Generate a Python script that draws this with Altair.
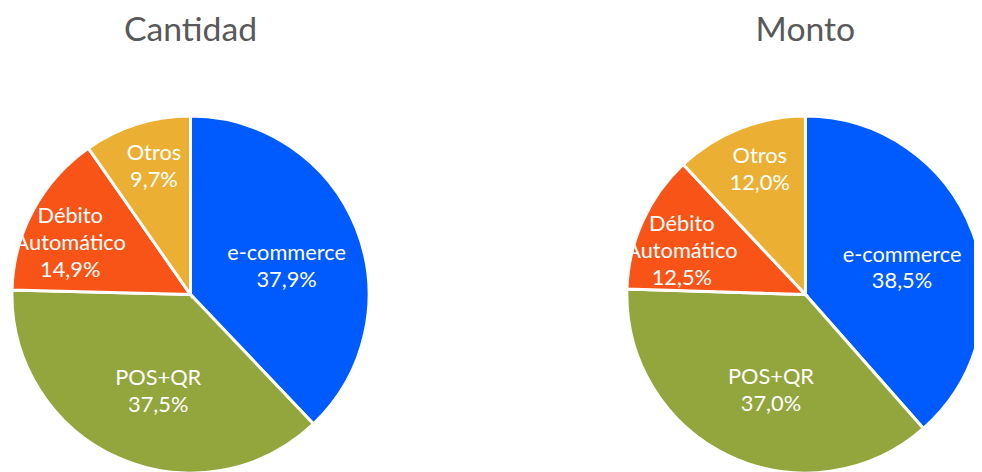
import altair as alt
import pandas as pd

# ---- data ----
categories = ["e-commerce", "POS+QR", "Débito Automático", "Otros"]
label_names = ["e-commerce", "POS+QR", "Débito\nAutomático", "Otros"]
cantidad = [37.9, 37.5, 14.9, 9.7]
monto = [38.5, 37.0, 12.5, 12.0]
panel_titles = ["Cantidad", "Monto"]

# ---- styles ----
colors = ["#005BFF", "#93A53D", "#F95417", "#EBB033"]
label_radius = [101, 103, 132, 134]       # px from pie centre
label_angle_shift = [5.4, -5.5, -5.0, 1.5]  # degrees away from slice middle
FONT = "Lato"
LABEL_SIZE = 22
LINE_H = 27


def fmt(v):
    return f"{v:.1f}".replace(".", ",") + "%"


def pie(values, title, cx, cy):
    labels = [f"{n}\n{fmt(v)}" for n, v in zip(label_names, values)]
    df = pd.DataFrame({
        "cat": categories,
        "order": list(range(len(categories))),
        "value": values,
        "label": labels,
        "nlines": [lab.count("\n") + 1 for lab in labels],
        "lr": label_radius,
        "dth": label_angle_shift,
    })
    base = alt.Chart(df)
    arc = base.mark_arc(outerRadius=180, stroke="white", strokeWidth=3).encode(
        theta=alt.Theta("value:Q", stack=True),
        color=alt.Color("cat:N", scale=alt.Scale(domain=categories, range=colors), legend=None),
        order=alt.Order("order:Q"),
        x=alt.value(cx),
        y=alt.value(cy),
    )
    stacked = base.transform_stack(
        stack="value", as_=["v0", "v1"], groupby=[], sort=[alt.SortField("order")]
    ).transform_joinaggregate(
        total="sum(value)"
    ).transform_calculate(
        mid="(datum.v0 + datum.v1) / 2 + datum.dth / 360 * datum.total"
    )
    texts = []
    for n in sorted(set(df["nlines"])):
        texts.append(
            stacked.transform_filter(f"datum.nlines == {n}").mark_text(
                font=FONT, fontSize=LABEL_SIZE, color="white", lineBreak="\n",
                lineHeight=LINE_H, align="center", baseline="middle",
                dy=-(n - 1) * LINE_H / 2,
            ).encode(
                theta=alt.Theta("mid:Q", stack=False),
                radius=alt.Radius("lr:Q", scale=None),
                text="label:N",
                x=alt.value(cx),
                y=alt.value(cy),
            )
        )
    ttl = alt.Chart(pd.DataFrame({"t": [title]})).mark_text(
        font=FONT, fontSize=34, color="#595959", baseline="alphabetic", align="center"
    ).encode(text="t:N", x=alt.value(cx), y=alt.value(31))
    return [arc] + texts + [ttl]


layers = pie(cantidad, panel_titles[0], 184, 287) + pie(monto, panel_titles[1], 804, 287)

chart = alt.layer(*layers).properties(
    width=974, height=464, padding=0, autosize="none"
).configure_view(stroke=None)

chart.save("out.html", embed_options={"renderer": "svg", "actions": False})
